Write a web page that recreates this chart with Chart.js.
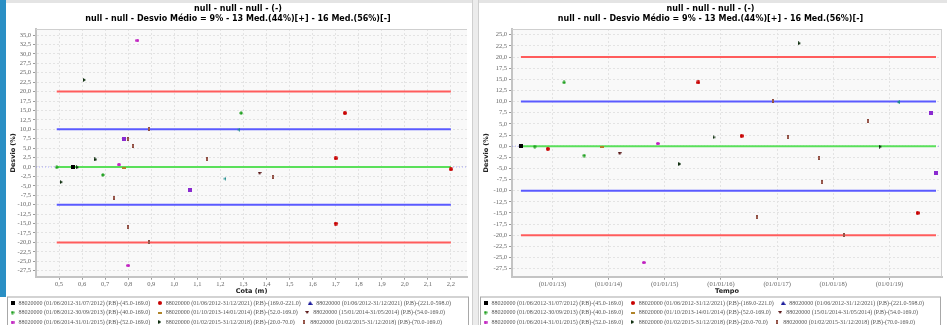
<!DOCTYPE html>
<html>
<head>
<meta charset="utf-8">
<script src="https://cdn.jsdelivr.net/npm/chart.js@4/dist/chart.umd.min.js"></script>
<style>
  html, body { margin: 0; padding: 0; background: #fff; width: 947px; height: 325px; overflow: hidden; }
  #side { position: absolute; left: 0; top: 0; width: 6px; height: 297px; background: #2a8fc4; }
  #topbar { position: absolute; left: 6px; top: 0; width: 941px; height: 3px; background: #e4e4e4; }
  #sep { position: absolute; left: 472px; top: 0; width: 5px; height: 325px; background: #ececec; border-left: 1px solid #cfcfcf; border-right: 1px solid #cfcfcf; }
  canvas { position: absolute; top: 0; }
  #cCota { left: 6px; }
  #cTempo { left: 479px; }
</style>
</head>
<body>
<div id="side"></div>
<div id="topbar"></div>
<div id="sep"></div>
<canvas id="cCota" width="466" height="335"></canvas>
<canvas id="cTempo" width="468" height="335"></canvas>
<script>
// ---- chart text ----
const titleLines = [
  'null - null - null - (-)',
  'null - null - Desvio Médio = 9% - 13 Med.(44%)[+] - 16 Med.(56%)[-]'
];
const legendLabels = [
  '88020000 (01/06/2012-31/07/2012) (P.B)-(45.0-169.0)',
  '88020000 (01/06/2012-31/12/2021) (P.B)-(169.0-221.0)',
  '88020000 (01/06/2012-31/12/2021) (P.B)-(221.0-598.0)',
  '88020000 (01/08/2012-30/09/2013) (P.B)-(40.0-169.0)',
  '88020000 (01/10/2013-14/01/2014) (P.B)-(52.0-169.0)',
  '88020000 (15/01/2014-31/05/2014) (P.B)-(54.0-169.0)',
  '88020000 (01/06/2014-31/01/2015) (P.B)-(52.0-169.0)',
  '88020000 (01/02/2015-31/12/2018) (P.B)-(20.0-70.0)',
  '88020000 (01/02/2015-31/12/2018) (P.B)-(70.0-169.0)'
];

// ---- measurements: cota (m), date, deviation (%) per series ----
const s1Cota = [0.56];
const s1Data = ['2012-06-10'];
const s1Desvio = [0.0];

const s2Cota = [2.20, 1.74, 1.70, 1.70];
const s2Data = ['2012-12-02', '2015-08-07', '2016-05-14', '2019-07-02'];
const s2Desvio = [-0.6, 14.3, 2.3, -15.0];

const s3Cota = [];
const s3Data = [];
const s3Desvio = [];

const s4Cota = [0.49, 1.29, 0.69];
const s4Data = ['2012-09-08', '2013-03-18', '2013-07-27'];
const s4Desvio = [-0.1, 14.3, -2.1];

const s5Cota = [0.78];
const s5Data = ['2013-11-21'];
const s5Desvio = [-0.2];

const s6Cota = [1.37];
const s6Data = ['2014-03-14'];
const s6Desvio = [-1.7];

const s7Cota = [0.84, 0.76, 0.80];
const s7Data = ['2014-10-01', '2014-11-17', '2014-08-18'];
const s7Desvio = [33.6, 0.6, -26.1];

const s8Cota = [0.51, 0.66, 0.61, 0.58];
const s8Data = ['2015-04-09', '2015-11-17', '2017-05-26', '2018-11-03'];
const s8Desvio = [-4.0, 2.0, 23.1, -0.1];

const s9Cota = [0.80, 0.89, 0.82, 1.14, 1.43, 0.74, 0.80, 0.89];
const s9Data = ['2019-09-27', '2016-12-02', '2018-08-14', '2017-03-14', '2017-09-27', '2017-10-19', '2016-08-21', '2018-03-14'];
const s9Desvio = [7.4, 10.2, 5.6, 2.0, -2.6, -8.1, -16.0, -20.0];

const s10Cota = [1.28, 1.22];
const s10Data = ['2019-02-27', '2019-12-20'];
const s10Desvio = [9.9, -3.1];

const s11Cota = [0.78, 1.07];
const s11Data = ['2019-09-27', '2019-10-30'];
const s11Desvio = [7.4, -6.0];

// tolerance bands (%)
const limitValues = [20, 10, 0, -10, -20];
const limitColors = ['#ff5c5c', '#5a5aff', '#5ae05a', '#5a5aff', '#ff5c5c'];

// axis ranges and tick values
const cotaRange = [0.40, 2.27];
const cotaTicks = [0.5, 0.6, 0.7, 0.8, 0.9, 1.0, 1.1, 1.2, 1.3, 1.4, 1.5, 1.6, 1.7, 1.8, 1.9, 2.0, 2.1, 2.2];
const desvioRangeCota = [-29.1, 36.6];
const desvioTicksCota = [-27.5, -25, -22.5, -20, -17.5, -15, -12.5, -10, -7.5, -5, -2.5, 0, 2.5, 5, 7.5, 10, 12.5, 15, 17.5, 20, 22.5, 25, 27.5, 30, 32.5, 35];
const tempoRange = ['2012-04-13', '2019-12-08'];
const tempoTicks = [2013, 2014, 2015, 2016, 2017, 2018, 2019];
const desvioRangeTempo = [-29.3, 26.3];
const desvioTicksTempo = [-27.5, -25, -22.5, -20, -17.5, -15, -12.5, -10, -7.5, -5, -2.5, 0, 2.5, 5, 7.5, 10, 12.5, 15, 17.5, 20, 22.5, 25];

// ---- helpers ----
function decimalYear(s) {
  const [y, m, d] = s.split('-').map(Number);
  const start = Date.UTC(y, 0, 1), end = Date.UTC(y + 1, 0, 1);
  return y + (Date.UTC(y, m - 1, d) - start) / (end - start);
}

function marker(kind, fill, w, h, stroke) {
  const c = document.createElement('canvas');
  c.width = w; c.height = h;
  const g = c.getContext('2d');
  g.fillStyle = fill;
  g.beginPath();
  const pts = {
    up: [[w / 2, 0], [w, h], [0, h]],
    down: [[0, 0], [w, 0], [w / 2, h]],
    right: [[0, 0], [w, h / 2], [0, h]],
    left: [[w, 0], [0, h / 2], [w, h]],
    diamond: [[w / 2, 0], [w, h / 2], [w / 2, h], [0, h / 2]]
  }[kind];
  if (kind === 'rect') g.rect(0, 0, w, h);
  else if (kind === 'ellipse') g.ellipse(w / 2, h / 2, w / 2, h / 2, 0, 0, Math.PI * 2);
  else { g.moveTo(pts[0][0], pts[0][1]); pts.slice(1).forEach(p => g.lineTo(p[0], p[1])); g.closePath(); }
  g.fill();
  if (stroke) { g.strokeStyle = stroke; g.lineWidth = 1; g.stroke(); }
  return c;
}

const series = [
  { cota: s1Cota, data: s1Data, desvio: s1Desvio, style: marker('rect', '#000000', 4, 4) },
  { cota: s2Cota, data: s2Data, desvio: s2Desvio, style: marker('ellipse', '#c80000', 4, 4) },
  { cota: s3Cota, data: s3Data, desvio: s3Desvio, style: marker('up', '#1c1c9c', 5, 4) },
  { cota: s4Cota, data: s4Data, desvio: s4Desvio, style: marker('diamond', '#20a020', 4, 4) },
  { cota: s5Cota, data: s5Data, desvio: s5Desvio, style: marker('rect', '#b08428', 4, 2) },
  { cota: s6Cota, data: s6Data, desvio: s6Desvio, style: marker('down', '#5a1818', 4, 3) },
  { cota: s7Cota, data: s7Data, desvio: s7Desvio, style: marker('ellipse', '#c020c0', 4, 3) },
  { cota: s8Cota, data: s8Data, desvio: s8Desvio, style: marker('right', '#0e2e0e', 3, 4) },
  { cota: s9Cota, data: s9Data, desvio: s9Desvio, style: marker('rect', '#c08070', 2, 4, '#7a3a30') },
  { cota: s10Cota, data: s10Data, desvio: s10Desvio, style: marker('left', '#1a8a8a', 3, 4) },
  { cota: s11Cota, data: s11Data, desvio: s11Desvio, style: marker('rect', '#8a2ad0', 4, 4), order: -1 }
];

function pointSets(xOf) {
  return series.map((s, i) => ({
    type: 'scatter',
    label: legendLabels[i] || ('88020000 #' + (i + 1)),
    data: s.desvio.map((v, k) => ({ x: xOf(s, k), y: v })),
    pointStyle: s.style,
    pointRadius: 2,
    showLine: false,
    order: s.order || 0
  }));
}

function limitSets(xMin, xMax, axisMin, axisMax) {
  const sets = limitValues.map((v, i) => ({
    type: 'line',
    label: 'lim' + i,
    data: [{ x: xMin, y: v }, { x: xMax, y: v }],
    borderColor: limitColors[i],
    borderWidth: 2,
    pointRadius: 0,
    showLine: true,
    order: 1
  }));
  // faint zero reference across the whole plot
  sets.push({
    type: 'line',
    label: 'zero',
    data: [{ x: axisMin, y: 0 }, { x: axisMax, y: 0 }],
    borderColor: 'rgba(110,110,255,0.55)',
    borderWidth: 1,
    borderDash: [1, 2],
    pointRadius: 0,
    showLine: true,
    order: 2
  });
  return sets;
}

// band extent: the measurements that fall inside the axis range
function extent(values, lo, hi) {
  const inside = values.filter(v => v >= lo && v <= hi);
  return [Math.min(...inside), Math.max(...inside)];
}

const fmt = v => Number(v).toFixed(1).replace('.', ',');

const framePlugin = {
  id: 'frame',
  beforeDraw(chart) {
    const { ctx, chartArea: a } = chart;
    ctx.save();
    ctx.fillStyle = '#f9f9f9';
    ctx.fillRect(a.left, a.top, a.right - a.left, a.bottom - a.top);
    ctx.restore();
  },
  afterDraw(chart, args, opts) {
    const { ctx, chartArea: a, legend } = chart;
    ctx.save();
    ctx.strokeStyle = '#cfcfcf';
    ctx.lineWidth = 1;
    ctx.beginPath();
    ctx.moveTo(a.left, a.top + 0.5); ctx.lineTo(a.right, a.top + 0.5);
    if (opts.right) { ctx.moveTo(a.right - 0.5, a.top); ctx.lineTo(a.right - 0.5, a.bottom); }
    ctx.stroke();
    ctx.strokeStyle = '#a8a8a8';
    ctx.strokeRect(legend.left + 1.5, legend.top + 0.5, legend.width - 3, legend.height);
    ctx.restore();
  }
};

function axisTitle(text, pad) {
  return { display: true, text, color: '#222', font: { family: 'DejaVu Sans', size: 6.5, weight: 'bold' }, padding: pad };
}

// legend entries keep a little extra room after each label
const legendGap = '\u2002';
function legendItems(chart) {
  return Chart.defaults.plugins.legend.labels.generateLabels(chart)
    .map(item => Object.assign(item, { text: item.text + legendGap }));
}

function baseOptions(cfg) {
  return {
    responsive: false,
    animation: false,
    devicePixelRatio: 1,
    layout: { padding: { left: 0, right: cfg.padRight, top: 0, bottom: 0 } },
    plugins: {
      frame: { right: cfg.rightBorder },
      title: {
        display: true, text: titleLines, color: '#000',
        font: { family: 'DejaVu Sans', weight: 'bold', size: 8, lineHeight: 1.25 },
        padding: { top: 4, bottom: 5 }
      },
      legend: {
        display: true, position: 'bottom', align: 'start',
        labels: {
          usePointStyle: true, color: '#555', padding: 3.5,
          font: { family: 'Liberation Serif', size: 6 },
          generateLabels: legendItems,
          filter: item => item.datasetIndex < legendLabels.length,
          sort: (a, b) => a.datasetIndex - b.datasetIndex
        }
      },
      tooltip: { enabled: false }
    },
    scales: {
      x: {
        type: 'linear', min: cfg.xMin, max: cfg.xMax,
        afterBuildTicks: s => { s.ticks = cfg.xTicks.map(v => ({ value: v })); },
        afterFit: s => { s.height = 19.8; },
        ticks: { color: '#666', font: { family: 'Liberation Serif', size: 6.5 }, padding: 1, maxRotation: 0, autoSkip: false, callback: cfg.xFmt },
        grid: { color: '#e3e3e3', tickColor: '#999', tickLength: 3 },
        border: { color: '#c4c4c4', width: 2, dash: [2, 2] },
        title: axisTitle(cfg.xTitle, { top: 0, bottom: 1 })
      },
      y: {
        type: 'linear', min: cfg.yMin, max: cfg.yMax,
        afterBuildTicks: s => { s.ticks = cfg.yTicks.map(v => ({ value: v })); },
        afterFit: s => { s.width = cfg.yWidth; },
        ticks: { color: '#666', font: { family: 'Liberation Serif', size: 6.5 }, padding: 2, autoSkip: false, callback: fmt },
        grid: { color: '#e3e3e3', tickColor: '#999', tickLength: 3 },
        border: { color: '#c4c4c4', width: 2, dash: [2, 2] },
        title: axisTitle('Desvio (%)', { top: 3, bottom: 4 })
      }
    }
  };
}

// ---- chart by cota ----
(function () {
  const xOf = (s, k) => s.cota[k];
  const [lo, hi] = extent(series.flatMap(s => s.cota), cotaRange[0], cotaRange[1]);
  new Chart(document.getElementById('cCota'), {
    type: 'scatter',
    data: { datasets: pointSets(xOf).concat(limitSets(lo, hi, cotaRange[0], cotaRange[1])) },
    options: baseOptions({
      xMin: cotaRange[0], xMax: cotaRange[1], xTicks: cotaTicks, xFmt: fmt, xTitle: 'Cota (m)',
      yMin: desvioRangeCota[0], yMax: desvioRangeCota[1], yTicks: desvioTicksCota, yWidth: 30,
      padRight: 2, rightBorder: false
    }),
    plugins: [framePlugin]
  });
})();

// ---- chart by date ----
(function () {
  const xOf = (s, k) => decimalYear(s.data[k]);
  const xMin = decimalYear(tempoRange[0]), xMax = decimalYear(tempoRange[1]);
  const [lo, hi] = extent(series.flatMap(s => s.data.map(decimalYear)), xMin, xMax);
  new Chart(document.getElementById('cTempo'), {
    type: 'scatter',
    data: { datasets: pointSets(xOf).concat(limitSets(lo, hi, xMin, xMax)) },
    options: baseOptions({
      xMin, xMax, xTicks: tempoTicks, xFmt: v => '(01/01/' + String(v).slice(2) + ')', xTitle: 'Tempo',
      yMin: desvioRangeTempo[0], yMax: desvioRangeTempo[1], yTicks: desvioTicksTempo, yWidth: 33,
      padRight: 5, rightBorder: true
    }),
    plugins: [framePlugin]
  });
})();
</script>
</body>
</html>
